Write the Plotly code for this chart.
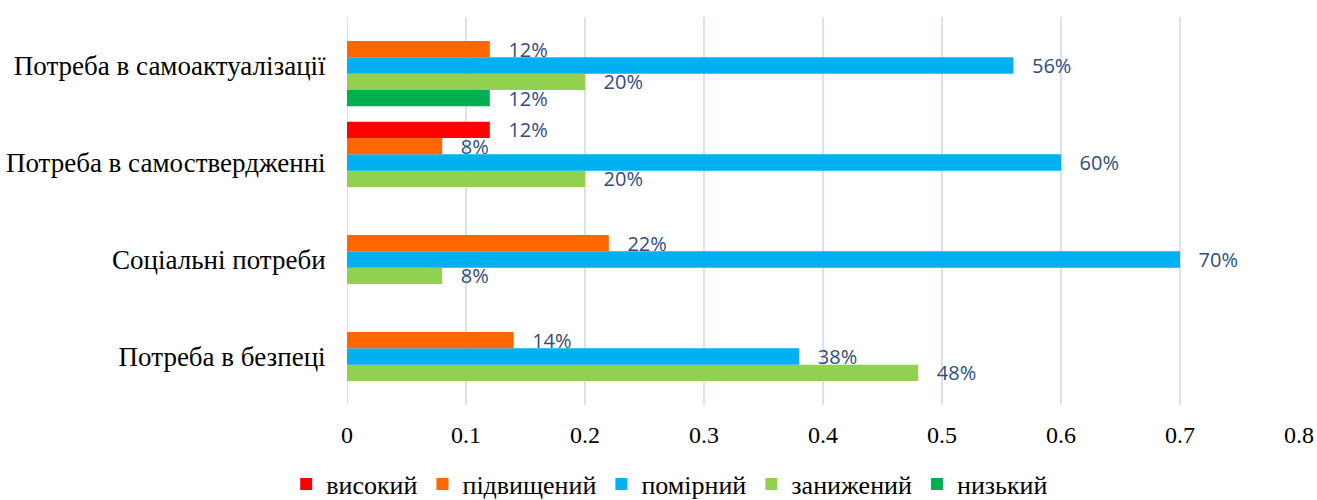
import plotly.graph_objects as go

categories = ["Потреба в безпеці", "Соціальні потреби", "Потреба в самоствердженні", "Потреба в самоактуалізації"]
series_names = ["високий", "підвищений", "помірний", "занижений", "низький"]
colors = ["#FF0000", "#FF6600", "#00B0F0", "#92D050", "#00B050"]

vysokyi = [None, None, 0.12, None]
pidvyshchenyi = [0.14, 0.22, 0.08, 0.12]
pomirnyi = [0.38, 0.70, 0.60, 0.56]
zanyzhenyi = [0.48, 0.08, 0.20, 0.20]
nyzkyi = [None, None, None, 0.12]

series_values = [vysokyi, pidvyshchenyi, pomirnyi, zanyzhenyi, nyzkyi]

x_ticks = [0, 0.1, 0.2, 0.3, 0.4, 0.5, 0.6, 0.7, 0.8]
x_ticklabels = ["0", "0.1", "0.2", "0.3", "0.4", "0.5", "0.6", "0.7", "0.8"]

fig = go.Figure()
pad = "\u00a0\u00a0\u00a0"
# add in reverse so that "високий" sits at the top of each group
for name, vals, col in reversed(list(zip(series_names, series_values, colors))):
    texts = [(pad + f"{round(v*100)}%") if v is not None else "" for v in vals]
    fig.add_trace(go.Bar(
        name=name, y=categories, x=vals, orientation="h",
        marker=dict(color=col, line=dict(width=0)),
        text=texts, textposition="outside", constraintext="none",
        cliponaxis=False,
        textfont=dict(family="Open Sans", size=20, color="#2F4D80"),
    ))

fig.update_layout(
    width=1317, height=500,
    barmode="group", bargap=0.16, bargroupgap=0,
    plot_bgcolor="white", paper_bgcolor="white",
    margin=dict(l=347, r=18, t=17, b=95, autoexpand=False),
    xaxis=dict(range=[0, 0.8], tickvals=x_ticks, ticktext=x_ticklabels,
               showgrid=True, gridcolor="#D9E2F3", gridwidth=2,
               zeroline=False, showline=False, automargin=False,
               ticks="outside", ticklen=8, tickcolor="rgba(0,0,0,0)",
               tickfont=dict(family="Liberation Serif", size=24, color="black")),
    yaxis=dict(categoryorder="array", categoryarray=categories,
               showgrid=False, zeroline=False, showline=False, automargin=False,
               ticks="outside", ticklen=15, tickcolor="rgba(0,0,0,0)",
               tickfont=dict(family="Liberation Serif", size=27, color="black")),
    showlegend=True,
    legend=dict(orientation="h", traceorder="reversed",
                x=0.5085, xanchor="center", xref="container",
                y=-0.2036, yanchor="middle", yref="paper",
                font=dict(family="Liberation Serif", size=26, color="black"),
                itemwidth=30),
)
fig.add_shape(type="line", x0=0, x1=0, y0=0, y1=1, xref="x", yref="paper",
              line=dict(color="#D9E2F3", width=2), layer="below")

fig.write_html(
    "out.html",
    config={"displayModeBar": False},
    post_script="document.body.style.margin='0';document.body.style.overflow='hidden';",
)
